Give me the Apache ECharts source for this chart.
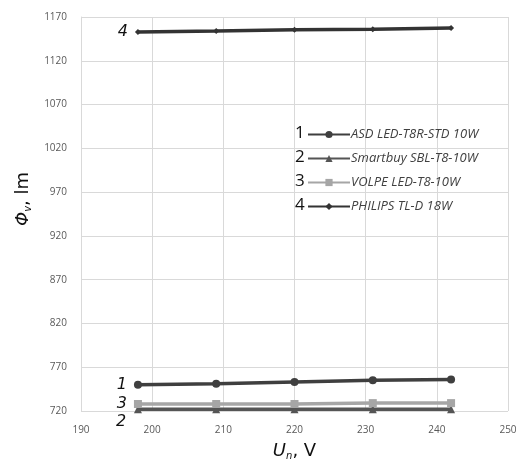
<!DOCTYPE html>
<html lang="en">
    <head>
        <meta charset="UTF-8" />
        <script src="https://cdn.jsdelivr.net/npm/echarts@6/dist/echarts.min.js"></script>
        <title>Luminous flux vs voltage</title>
        <style>
            body { margin: 0; background: #fff; }
            #chart { width: 517px; height: 461px; }
        </style>
    </head>
    <body>
        <div id="chart"></div>
        <script type="text/javascript">
            var voltage = [198, 209, 220, 231, 242];
            var lampNames = ["ASD LED-T8R-STD 10W", "Smartbuy SBL-T8-10W", "VOLPE LED-T8-10W", "PHILIPS TL-D 18W"];
            var asd = [750, 751, 753, 755, 756];
            var smartbuy = [722, 722, 722, 722, 722];
            var volpe = [728, 728, 728, 729, 729];
            var philips = [1153, 1154, 1155.5, 1156, 1157.5];
            var curveNumbers = ["1", "2", "3", "4"];

            var chart = echarts.init(document.getElementById("chart"));

            function pairs(ys) {
                return voltage.map(function (x, i) { return [x, ys[i]]; });
            }

            // one line series per lamp, number label on the first point
            function lamp(i, ys, color, symbol, size, labelPos) {
                return {
                    name: lampNames[i],
                    type: "line",
                    data: pairs(ys),
                    symbol: symbol,
                    symbolSize: size,
                    lineStyle: { color: color, width: 3.5 },
                    itemStyle: { color: color },
                    label: {
                        show: true,
                        formatter: function (p) { return p.dataIndex === 0 ? curveNumbers[i] : ""; },
                        position: labelPos,
                        distance: 7,
                        fontFamily: "DejaVu Sans",
                        fontStyle: "italic",
                        fontSize: 16,
                        color: "#111",
                    },
                    z: 3 + (i === 0 ? 1 : 0),
                };
            }

            function nameRich(size) {
                return {
                    i: { fontFamily: "DejaVu Sans", fontStyle: "italic", fontSize: size, color: "#111" },
                    s: { fontFamily: "DejaVu Sans", fontStyle: "italic", fontSize: 10, color: "#111", verticalAlign: "bottom", padding: [9, 0, 0, 0] },
                    n: { fontFamily: "DejaVu Sans", fontSize: size, color: "#111" },
                };
            }

            var option = {
                animation: false,
                grid: { left: 81, right: 9, top: 17, bottom: 50, outerBoundsMode: "none" },
                legend: {
                    orient: "vertical",
                    left: 302,
                    top: 123,
                    itemWidth: 42,
                    itemHeight: 9,
                    itemGap: 11,
                    textStyle: {
                        fontFamily: "Open Sans",
                        fontStyle: "italic",
                        fontSize: 13,
                        color: "#404040",
                        padding: [0, 0, 0, -4],
                    },
                    data: lampNames,
                },
                graphic: curveNumbers.map(function (n, i) {
                    return {
                        type: "text",
                        left: 295,
                        top: 125 + i * 24,
                        style: { text: n, fontFamily: "Open Sans", fontSize: 17, fill: "#111" },
                    };
                }),
                xAxis: {
                    type: "value",
                    min: 190,
                    max: 250,
                    interval: 10,
                    name: "{i|U}{s|n}{n|, V}",
                    nameLocation: "middle",
                    nameGap: 31,
                    nameTextStyle: { rich: nameRich(18) },
                    axisLine: { show: false },
                    axisTick: { show: false },
                    axisLabel: { fontFamily: "Open Sans", fontSize: 10, color: "#595959", margin: 14 },
                    splitLine: { show: true, lineStyle: { color: "#d9d9d9" } },
                },
                yAxis: {
                    type: "value",
                    min: 720,
                    max: 1170,
                    interval: 50,
                    name: "{i|Φ}{s|v}{n|, lm}",
                    nameLocation: "middle",
                    nameGap: 38,
                    nameTextStyle: { rich: nameRich(18), padding: [0, 0, 0, 30] },
                    axisLine: { show: true, lineStyle: { color: "#d9d9d9" } },
                    axisTick: { show: false },
                    axisLabel: {
                        fontFamily: "Open Sans",
                        fontSize: 10,
                        color: "#595959",
                        margin: 14,
                        formatter: function (v) { return String(v); },
                    },
                    splitLine: { show: true, lineStyle: { color: "#d9d9d9" } },
                },
                series: [
                    lamp(0, asd, "#3f3f3f", "circle", 8, "left"),
                    lamp(1, smartbuy, "#555555", "triangle", 8, [-18, 9]),
                    lamp(2, volpe, "#a6a6a6", "rect", 8, "left"),
                    lamp(3, philips, "#333333", "diamond", 6, "left"),
                ],
            };

            chart.setOption(option);
        </script>
    </body>
</html>
